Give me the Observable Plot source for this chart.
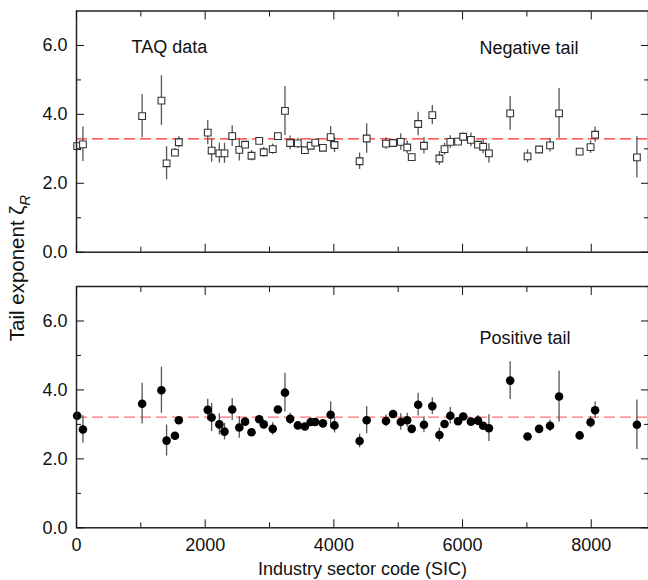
<!DOCTYPE html>
<html><head><meta charset="utf-8">
<script src="https://cdn.jsdelivr.net/npm/d3@7"></script>
<script src="https://cdn.jsdelivr.net/npm/@observablehq/plot@0.6"></script>
<style>
body{margin:0;background:#fff;}
#wrap{position:relative;width:648px;height:580px;font-family:"Liberation Sans",Arial,sans-serif;overflow:hidden;}
#wrap svg{display:block;}
#ylab{position:absolute;z-index:2;left:19px;top:268px;transform:translate(-50%,-50%) rotate(-90deg);white-space:nowrap;font-size:20.5px;color:#111;}
#ylab sub{font-size:15px;font-style:italic;}
</style></head><body>
<div id="wrap"><div id="ylab">Tail exponent ζ<sub>R</sub></div></div>
<script>
// Industry sector codes (shared by both panels)
const sic = [10, 100, 1020, 1320, 1400, 1530, 1590, 2040, 2100, 2220, 2300, 2420, 2530, 2620, 2720, 2840, 2910, 3050, 3130, 3240, 3320, 3440, 3550, 3640, 3710, 3830, 3950, 4010, 4400, 4510, 4810, 4920, 5040, 5140, 5210, 5310, 5400, 5530, 5640, 5720, 5810, 5930, 6010, 6130, 6240, 6320, 6410, 6740, 7010, 7190, 7360, 7500, 7820, 7990, 8060, 8710];
// Negative tail exponents and errors
const negVal = [3.08, 3.13, 3.95, 4.40, 2.58, 2.89, 3.19, 3.47, 2.95, 2.87, 2.87, 3.37, 2.97, 3.12, 2.80, 3.23, 2.90, 2.99, 3.37, 4.10, 3.17, 3.16, 2.96, 3.09, 3.18, 3.03, 3.34, 3.11, 2.64, 3.30, 3.15, 3.17, 3.20, 3.04, 2.76, 3.72, 3.09, 3.98, 2.72, 2.99, 3.20, 3.21, 3.35, 3.26, 3.12, 3.06, 2.87, 4.03, 2.78, 2.98, 3.10, 4.03, 2.92, 3.05, 3.41, 2.75];
const negErr = [0.08, 0.5, 0.63, 0.72, 0.48, 0.12, 0.16, 0.35, 0.34, 0.29, 0.29, 0.3, 0.32, 0.1, 0.15, 0.1, 0.14, 0.15, 0.08, 0.71, 0.2, 0.15, 0.08, 0.08, 0.08, 0.08, 0.31, 0.22, 0.24, 0.43, 0.17, 0.1, 0.24, 0.19, 0.08, 0.34, 0.24, 0.28, 0.2, 0.17, 0.18, 0.1, 0.1, 0.2, 0.1, 0.2, 0.28, 0.49, 0.19, 0.08, 0.19, 0.72, 0.08, 0.18, 0.22, 0.6];
// Positive tail exponents and errors
const posVal = [3.25, 2.85, 3.60, 3.99, 2.53, 2.67, 3.12, 3.42, 3.20, 3.00, 2.79, 3.43, 2.91, 3.08, 2.77, 3.15, 3.00, 2.87, 3.43, 3.92, 3.16, 2.97, 2.94, 3.07, 3.07, 3.03, 3.28, 2.97, 2.52, 3.12, 3.10, 3.30, 3.07, 3.12, 2.87, 3.57, 2.99, 3.53, 2.69, 3.01, 3.25, 3.09, 3.23, 3.08, 3.11, 2.96, 2.89, 4.27, 2.65, 2.87, 2.96, 3.81, 2.68, 3.06, 3.41, 2.99];
const posErr = [0.08, 0.4, 0.59, 0.67, 0.45, 0.08, 0.08, 0.31, 0.41, 0.31, 0.24, 0.32, 0.31, 0.08, 0.08, 0.08, 0.08, 0.18, 0.08, 0.56, 0.16, 0.08, 0.08, 0.08, 0.08, 0.08, 0.38, 0.22, 0.2, 0.39, 0.17, 0.08, 0.24, 0.2, 0.08, 0.33, 0.23, 0.24, 0.2, 0.08, 0.24, 0.08, 0.08, 0.08, 0.15, 0.08, 0.39, 0.55, 0.08, 0.08, 0.17, 0.74, 0.08, 0.17, 0.24, 0.72];
// Mean exponents (dashed lines)
const negMean = 3.29;
const posMean = 3.21;
// Ticks
const xMajor = [0, 2000, 4000, 6000, 8000];
const xMinor = [1000, 3000, 5000, 7000];
const yMajor = [0, 2, 4, 6];
const yMinor = [1, 3, 5];

const negData = sic.map((s, i) => ({sic: s, v: negVal[i], e: negErr[i]}));
const posData = sic.map((s, i) => ({sic: s, v: posVal[i], e: posErr[i]}));

const FONT = '"Liberation Sans", Arial, sans-serif';
const blank = () => "";

function axes(showX) {
  return [
    Plot.axisY(yMajor, {anchor: "left", tickSize: -8, tickPadding: 17, tickFormat: d3.format(".1f"), label: null, fontSize: 18, fill: "#111"}),
    Plot.axisY(yMinor, {anchor: "left", tickSize: -5, tickFormat: blank, label: null}),
    Plot.axisY(yMajor, {anchor: "right", tickSize: -8, tickFormat: blank, label: null}),
    Plot.axisY(yMinor, {anchor: "right", tickSize: -5, tickFormat: blank, label: null}),
    Plot.axisX(xMajor, {anchor: "bottom", tickSize: -8, tickPadding: 18, tickFormat: showX ? (d => String(d)) : blank, label: null, fontSize: 18, fill: "#111"}),
    Plot.axisX(xMinor, {anchor: "bottom", tickSize: -5, tickFormat: blank, label: null}),
    Plot.axisX(xMajor, {anchor: "top", tickSize: -8, tickFormat: blank, label: null}),
    Plot.axisX(xMinor, {anchor: "top", tickSize: -5, tickFormat: blank, label: null})
  ];
}

const common = {
  width: 648,
  marginLeft: 76,
  marginRight: 0,
  x: {domain: [0, 8890], label: null},
  y: {domain: [0, 7], label: null},
  style: {fontFamily: FONT, fontSize: "18px", background: "white", color: "#111"}
};

const topChart = Plot.plot({
  ...common,
  height: 270,
  marginTop: 10.5,
  marginBottom: 18.3,
  marks: [
    Plot.ruleY([negMean], {stroke: "#ff2a2a", strokeWidth: 1.3, strokeDasharray: "11,5"}),
    Plot.ruleX(negData, {x: "sic", y1: d => d.v - d.e, y2: d => d.v + d.e, stroke: "#555", strokeWidth: 1.3}),
    Plot.dot(negData, {x: "sic", y: "v", symbol: "square", r: 3.8, fill: "white", stroke: "#333", strokeWidth: 1.1}),
    Plot.text(["TAQ data"], {text: d => d, frameAnchor: "top-left", dx: 55, dy: 36, textAnchor: "start", lineAnchor: "middle", fontSize: 18, fill: "#111"}),
    Plot.text(["Negative tail"], {text: d => d, frameAnchor: "top-left", dx: 403, dy: 37, textAnchor: "start", lineAnchor: "middle", fontSize: 18, fill: "#111"}),
    Plot.frame({stroke: "#222", strokeWidth: 1.5}),
    ...axes(false)
  ]
});

const bottomChart = Plot.plot({
  ...common,
  height: 310,
  marginTop: 16,
  marginBottom: 52.7,
  marks: [
    Plot.ruleY([posMean], {stroke: "#ff7070", strokeWidth: 1.3, strokeDasharray: "11,5"}),
    Plot.ruleX(posData, {x: "sic", y1: d => d.v - d.e, y2: d => d.v + d.e, stroke: "#555", strokeWidth: 1.3}),
    Plot.dot(posData, {x: "sic", y: "v", r: 4.3, fill: "#000"}),
    Plot.text(["Positive tail"], {text: d => d, frameAnchor: "top-left", dx: 403, dy: 51.5, textAnchor: "start", lineAnchor: "middle", fontSize: 18, fill: "#111"}),
    Plot.text(["Industry sector code (SIC)"], {text: d => d, frameAnchor: "bottom", dy: 41, lineAnchor: "middle", fontSize: 18, fill: "#111"}),
    Plot.frame({stroke: "#222", strokeWidth: 1.5}),
    ...axes(true)
  ]
});

const wrap = document.getElementById("wrap");
wrap.appendChild(topChart);
wrap.appendChild(bottomChart);
</script>
</body></html>
